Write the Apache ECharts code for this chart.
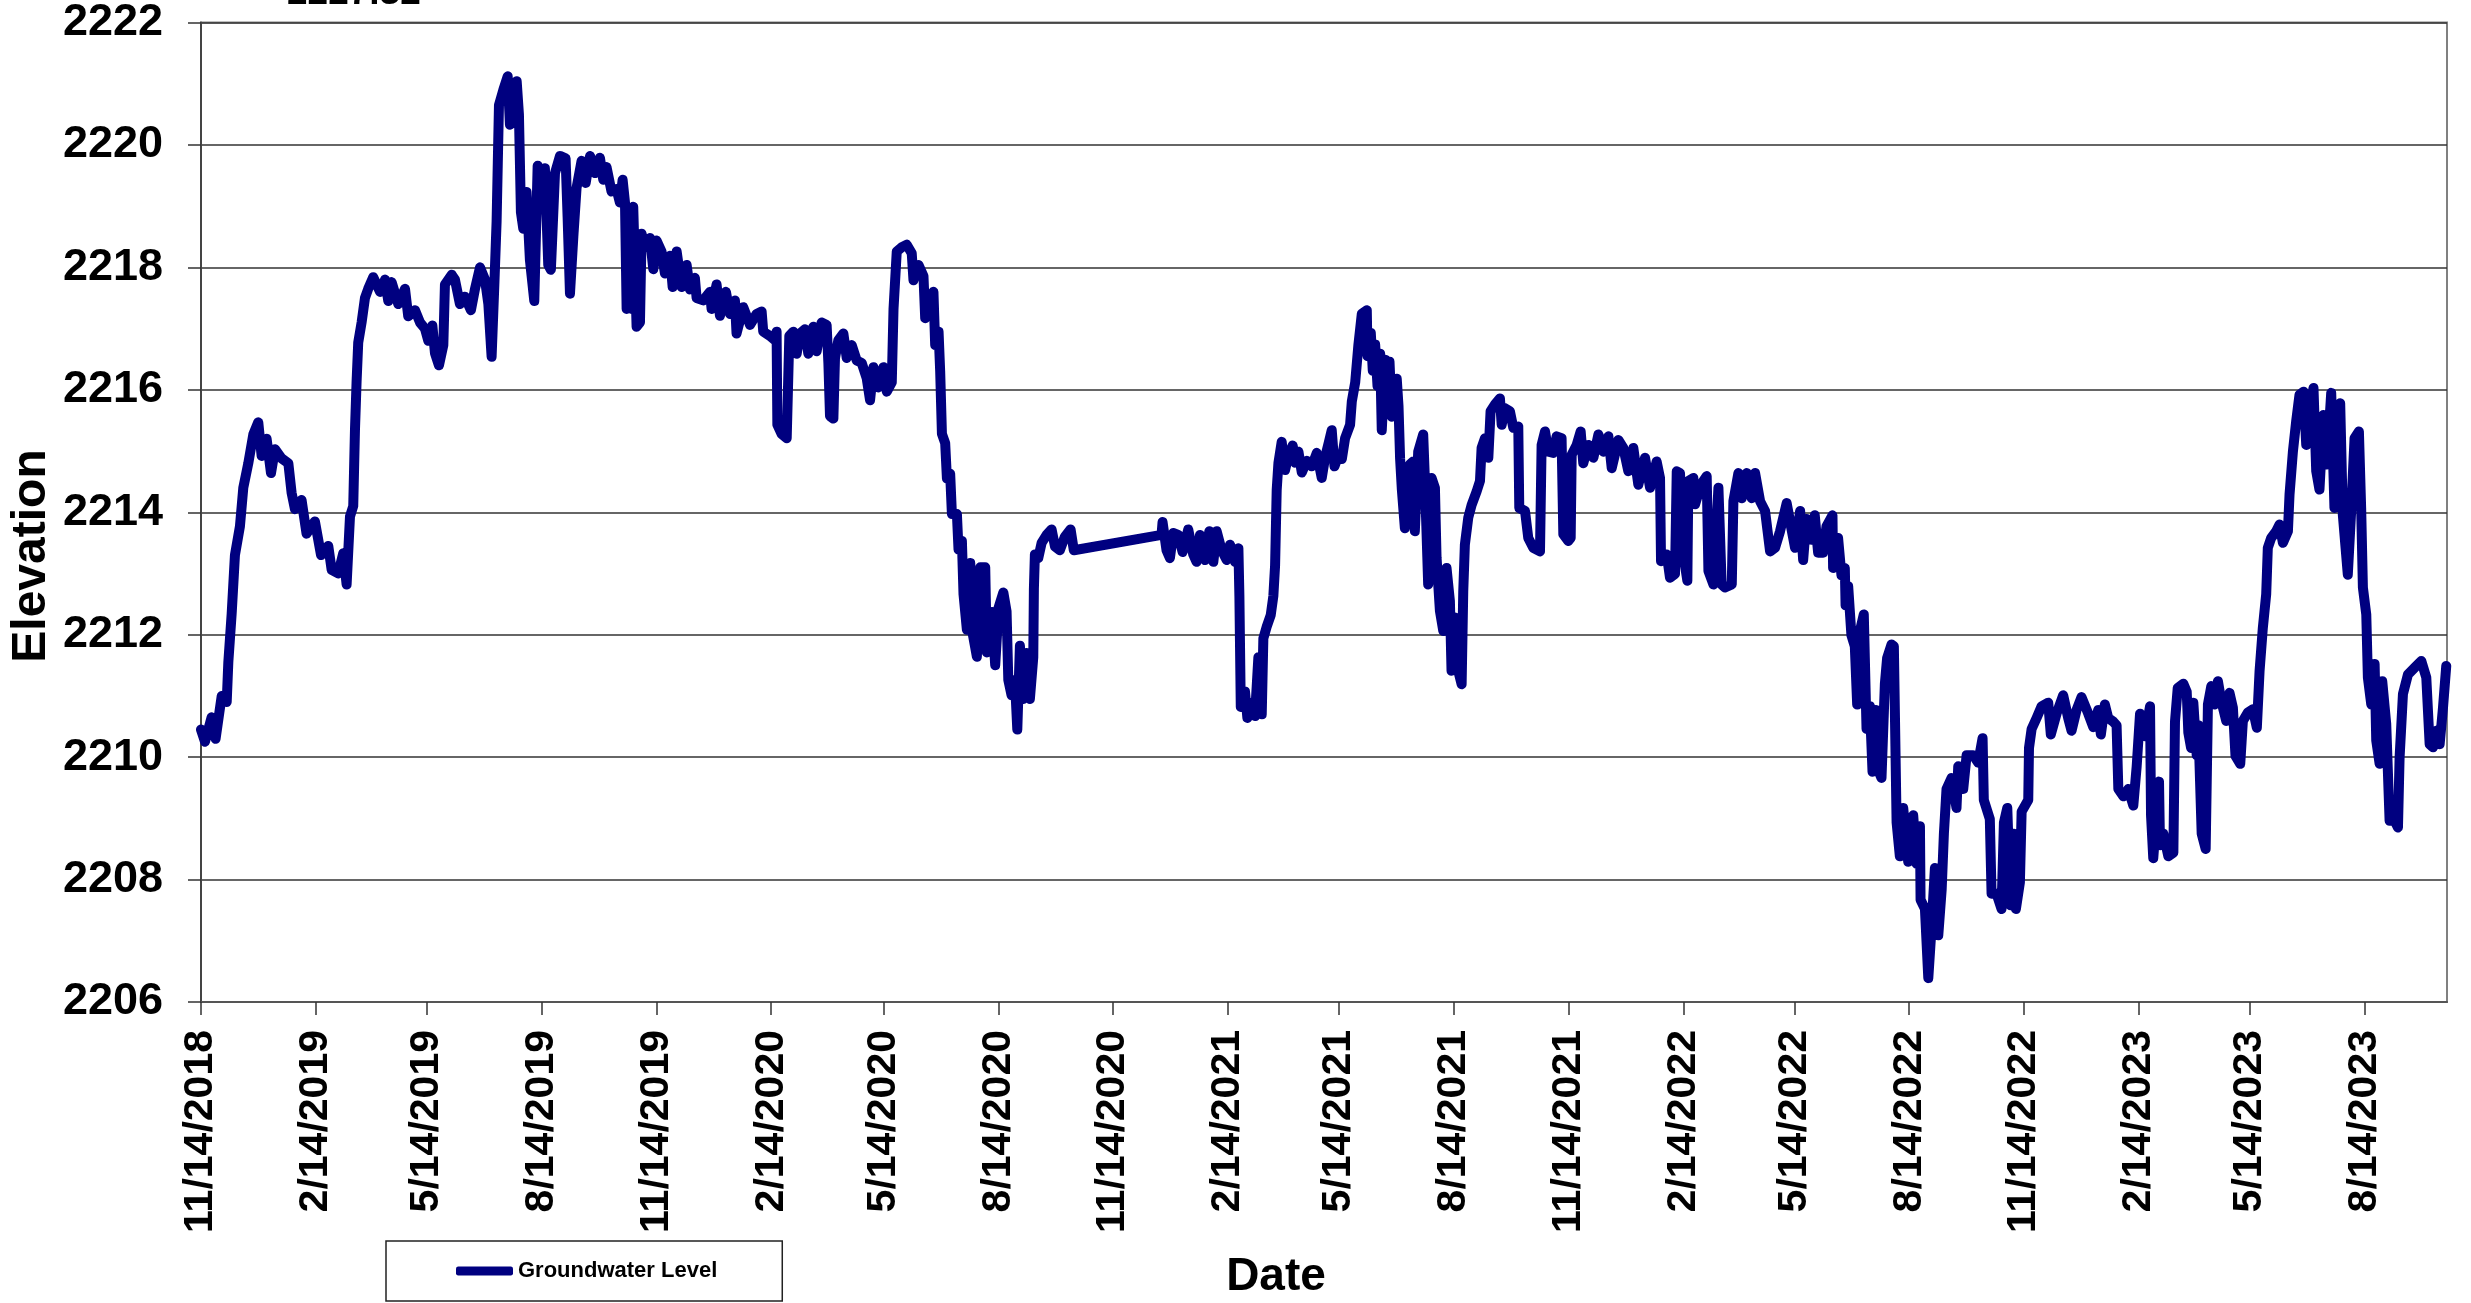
<!DOCTYPE html>
<html>
<head>
<meta charset="utf-8">
<script src="https://cdn.jsdelivr.net/npm/echarts@6/dist/echarts.min.js"></script>
<style>
html,body{margin:0;padding:0;background:#fff;}
#chart{width:2471px;height:1303px;}
</style>
</head>
<body>
<div id="chart"></div>
<script>
// Dates are stored as day offsets from 11/14/2018 (first reading)
const startDate = '11/14/2018';
const seriesName = 'Groundwater Level';
const tickLabels = ['11/14/2018','2/14/2019','5/14/2019','8/14/2019','11/14/2019','2/14/2020','5/14/2020','8/14/2020','11/14/2020','2/14/2021','5/14/2021','8/14/2021','11/14/2021','2/14/2022','5/14/2022','8/14/2022','11/14/2022','2/14/2023','5/14/2023','8/14/2023'];
const dayOffsets = [
0,3.2,8.5,11.7,16.6,20.6,21.9,24.6,27.2,31.2,33.9,37.9,41.9,45.9,48.6,52.6,56.1,59.3,64.6,70,72.6,75.3,80.6,84.6,91.3,96.2,102,104.7,110,114,116.7,119.4,122,123.4,124.7,126,128.7,131.4,134,138,143.5,147.5,150.1,152.8,158.1,163.5,166.1,171.5,175.5,179.5,182.2,185.4,187.5,190.7,194.2,195.5,200.9,203.5,207.5,211.5,216.3,219.6,223.6,227.6,230.3,232.9,235.1,236.9,238.8,242.3,245.8,247.6,250.3,253,254.8,256.4,258.3,260.9,263.6,267.1,269.8,273,275.6,278.3,280.4,283.7,287.7,292.2,293.8,295.7,298.4,301,305,308.3,311.8,315.8,
319.7,322.4,325,329,333,335.7,337.9,339.8,341.1,343.2,345.1,346.4,349.1,351.8,353.1,355.8,359.8,362.5,365.1,369.1,371.8,375.8,378,381.2,385.2,389.2,391.8,395.8,397.2,402.5,407.9,409.2,413.2,415.9,420.7,423.9,427.9,429.2,434.6,440,445.3,449.3,450.6,456,460,461.3,461.9,465.3,469.4,471.5,474.7,477.4,480,484,486.7,490.7,493.4,497.4,501.4,502.8,504.1,506.8,508.1,510.8,514.8,517.5,521.5,525.5,529.5,533.5,536.2,538.9,542.9,546.9,549.6,553.6,555,557.6,561.6,565.6,569.6,571,575,579,580.4,583,587,588.4,591.1,592.4,593.8,596.4,597.8,600.4,601.8,605.8,607.1,609.8,611.1,613.8,616.5,618.6,621.8,624.5,628.5,629.8,633.8,636.5,639.2,
643,645.6,647,649.6,652.3,654.2,656.3,659,661.6,664.3,667,667.5,668.3,671,673.7,677.7,681.7,684.4,688.3,692.3,696.9,699.5,769.8,770.6,773.8,776.5,779.2,783.2,786.7,791.2,795.2,797.9,800.6,804.6,808.1,811.3,814,818,822,824.7,828.7,831.4,832.2,833.3,836.7,838.6,842.1,844.7,847.4,850.1,851.4,854.1,857.3,859.4,860.8,862.1,863.5,866.1,868.8,871.5,874.9,876.8,879.5,882.2,886.2,890.2,894.2,898.2,900.9,903.6,906.2,908.4,911.6,914.3,916.9,920.9,922.3,925,927.6,930.3,934.3,934.9,937.5,939.1,941,942.9,945,946.3,949,950.9,952.5,954.4,955.7,958.3,959.7,961,962.4,
964.8,968.8,971.5,972.8,975.5,979.5,980.8,983.5,986.2,988.9,990.2,992.9,995.6,998.2,1000.9,1002.2,1004.9,1007.6,1010.3,1011.6,1012.9,1015.6,1018.3,1022.3,1025,1026.3,1029,1031.7,1033.5,1037,1041,1042.4,1045,1049,1051.7,1055.7,1056.5,1061.1,1063.7,1067.7,1073.1,1074.4,1077.1,1079.8,1083.8,1086.4,1090.4,1091.8,1095.8,1097.7,1098.5,1102.5,1105.7,1107.8,1111.8,1115.9,1119.9,1123.9,1127.9,1130.6,1135.9,1139.9,1143.9,1147.9,1151.9,1157.3,1161.3,1166.6,1169.3,1170.1,1174.7,1177.3,1181.3,1182.7,1185.3,1188,1191.2,1192,1196,1197.4,1201.4,1204,1206.7,1208.1,1212.1,1216.1,1218.7,1221.4,1226.8,1228.1,1232.1,1234.8,1238.8,1242.8,1245.5,1249.5,1253.5,1257.5,1261.5,1265.5,1270.8,1273.5,1277.5,1281.6,
1284,1286.6,1290.6,1293.3,1296,1300,1302.7,1307.5,1308,1312,1314.7,1317.4,1318,1320.1,1322.7,1325.4,1327.3,1329.4,1332.6,1334.8,1337.5,1339.6,1342.3,1344.1,1346.8,1349.5,1351.3,1354.8,1356.7,1358.9,1361.5,1364.2,1368.2,1372.2,1374.9,1377.6,1378.1,1381.6,1384.3,1386.9,1389.6,1392.3,1395,1396.8,1398.9,1402.9,1406.9,1408.3,1412.3,1415,1420.3,1424.3,1427.8,1428.8,1433.6,1435,1439,1443,1444.9,1447.6,1450.2,1452.9,1454.5,1457.7,1459.1,1464.4,1465,1467.1,1471.1,1475.1,1480.4,1482.5,1487.1,1492.4,1496.4,1499.1,1503.1,1507.1,1512.5,1516.5,1520.5,1522.6,1525.8,1528.5,1532.5,1535.2,1536.6,1540.6,1544.6,1548.6,1551.3,1554,1558,1562,1562.8,1564.6,1566,1569.2,1570,1572.7,1576.7,1580.7,1582,1584.2,1588.7,1591.4,1592.7,1594.9,1596.7,1599.4,1600.7,1603.4,1606.6,
1608.4,1611.1,1613.7,1616.4,1619.1,1623.1,1625.7,1628.4,1630.5,1634.3,1636.4,1640.4,1644.4,1647.6,1649.8,1652.4,1655.1,1656.4,1659.1,1663.1,1665.8,1668.5,1672.5,1673.8,1676.5,1679.1,1681.8,1685,1687.2,1689.8,1693,1695.2,1697.8,1701,1703.7,1707.2,1709.8,1712.5,1714.4,1716.5,1720.5,1723.2,1725.9,1729.4,1731.2,1732.6,1735.3,1736.6,1739.3,1742,1743.3,1746,1748.1,1751.3,1754,1758,1760.7,1762,1764.7,1768.7,1774,1779.4,1783.4,1786.1,1788.8,1791.4,1794.1,1796.8,1799.4
];
const elevations = [
2210.45,2210.25,2210.65,2210.3,2211.0,2210.9,2211.55,2212.35,2213.3,2213.77,2214.4,2214.8,2215.27,2215.47,2214.92,2215.2,2214.64,2215.03,2214.88,2214.8,2214.32,2214.05,2214.2,2213.65,2213.85,2213.3,2213.45,2213.06,2213.0,2213.33,2212.82,2213.93,2214.1,2215.35,2216.14,2216.77,2217.1,2217.5,2217.65,2217.84,2217.6,2217.8,2217.45,2217.76,2217.4,2217.65,2217.2,2217.3,2217.1,2217.0,2216.8,2217.05,2216.6,2216.4,2216.73,2217.72,2217.88,2217.8,2217.4,2217.52,2217.3,2217.65,2218.0,2217.8,2217.4,2216.54,2217.72,2218.75,2220.65,2220.9,2221.12,2220.33,2220.57,2221.04,2220.5,2218.9,2218.63,2219.23,2218.12,2217.45,2219.66,2218.95,2219.62,2218.04,2217.96,2219.54,2219.82,2219.78,2218.83,2217.57,2218.5,2219.3,2219.74,2219.38,2219.82,2219.54,
2219.79,2219.43,2219.64,2219.24,2219.28,2219.06,2219.43,2219.06,2217.32,2218.92,2217.32,2218.99,2217.03,2217.1,2218.55,2218.33,2218.48,2217.97,2218.44,2218.26,2217.9,2218.19,2217.68,2218.26,2217.68,2218.04,2217.64,2217.83,2217.5,2217.46,2217.6,2217.32,2217.72,2217.21,2217.6,2217.24,2217.46,2216.92,2217.35,2217.06,2217.24,2217.28,2216.95,2216.88,2216.81,2216.95,2215.43,2215.28,2215.21,2216.88,2216.95,2216.59,2216.92,2216.99,2216.59,2217.03,2216.63,2217.1,2217.06,2216.44,2215.57,2215.53,2216.52,2216.81,2216.92,2216.52,2216.73,2216.48,2216.44,2216.19,2215.83,2216.37,2216.04,2216.37,2215.97,2216.12,2217.32,2218.26,2218.33,2218.37,2218.23,2217.79,2218.04,2217.86,2217.17,2217.46,2217.6,2216.73,2216.95,2216.3,2215.28,2215.13,2214.55,2214.63,2213.97,2213.97,2213.39,2213.53,2212.66,2212.08,2213.17,2212.0,2211.64,2213.1,2213.1,2211.71,2212.37,2211.5,2212.44,
2212.69,2212.38,2211.26,2211.01,2211.26,2210.45,2211.82,2210.95,2211.7,2210.95,2211.63,2212.75,2213.31,2213.25,2213.5,2213.63,2213.72,2213.44,2213.38,2213.6,2213.72,2213.38,2213.63,2213.84,2213.38,2213.25,2213.66,2213.63,2213.35,2213.72,2213.31,2213.19,2213.63,2213.22,2213.69,2213.19,2213.69,2213.38,2213.22,2213.47,2213.19,2213.41,2212.63,2210.82,2211.07,2210.64,2210.89,2210.67,2211.63,2210.7,2211.94,2212.13,2212.32,2212.63,2213.13,2214.37,2214.81,2215.15,2214.69,2214.93,2215.09,2214.81,2214.99,2214.65,2214.84,2214.75,2214.97,2214.56,2214.9,2215.12,2215.34,2214.75,2214.93,2214.87,2215.21,2215.43,2215.81,2216.12,2216.74,2217.24,2217.3,2216.55,2216.93,2216.31,2216.74,2216.06,2216.59,2215.34,2216.49,2215.62,2216.46,2215.56,2215.68,2216.18,2215.74,2214.87,2214.37,
2213.74,2214.78,2214.83,2213.69,2214.99,2215.27,2214.56,2212.82,2214.56,2214.4,2213.26,2212.39,2212.06,2213.09,2212.55,2211.41,2212.28,2211.41,2211.19,2212.71,2213.47,2213.91,2214.12,2214.34,2214.51,2215.05,2215.21,2214.89,2215.65,2215.76,2215.86,2215.43,2215.7,2215.65,2215.38,2215.4,2214.07,2214.02,2213.58,2213.42,2213.36,2215.1,2215.32,2214.99,2214.97,2215.24,2215.21,2213.64,2213.53,2213.58,2214.94,2215.1,2215.32,2214.8,2215.1,2214.89,2215.27,2214.99,2215.24,2214.72,2215.18,2215.05,2214.67,2215.05,2214.45,2214.89,2214.4,2214.83,2214.56,2213.2,2213.31,2212.93,2212.99,2214.67,2214.64,2213.31,2212.88,2214.51,2214.56,2214.13,2214.4,2214.51,2214.59,2213.04,2212.82,2214.4,2212.82,2212.77,2212.82,2214.18,2214.64,2214.23,2214.64,2214.23,2214.64,2214.18,2214.02,2213.36,2213.42,2213.69,2214.15,2213.85,2213.42,2214.02,
2213.22,2213.89,2213.55,2213.95,2213.34,2213.34,2213.77,2213.95,2213.09,2213.58,2212.97,2213.09,2212.48,2212.79,2211.99,2211.81,2210.86,2212.05,2212.33,2210.46,2210.83,2209.76,2210.77,2209.79,2209.66,2211.2,2211.62,2211.84,2211.81,2208.93,2208.38,2209.17,2208.29,2209.05,2208.26,2208.87,2207.67,2207.52,2206.39,2207.21,2208.19,2207.09,2207.83,2208.75,2209.48,2209.66,2209.17,2209.85,2209.48,2210.03,2210.03,2209.91,2210.31,2209.3,2208.99,2207.77,2207.77,2207.52,2208.93,2209.17,2207.58,2208.75,2207.52,2207.95,2209.11,2209.3,2210.15,2210.46,2210.64,2210.83,2210.89,2210.37,2210.71,2211.01,2210.64,2210.43,2210.77,2210.98,2210.71,2210.49,2210.77,2210.37,2210.86,2210.64,2210.58,2210.52,2209.48,2209.36,2209.48,2209.21,2209.85,2210.71,2210.34,2210.83,2209.05,2208.35,2208.32,2209.6,2208.56,2208.75,2208.38,2208.44,2210.58,2211.13,2211.2,2211.07,2210.4,2210.15,2210.89,2210.03,2210.52,2208.75,2208.5,
2210.86,2211.16,2210.86,2211.24,2210.92,2210.59,2211.05,2210.81,2210.02,2209.89,2210.59,2210.73,2210.78,2210.48,2211.41,2212.11,2212.66,2213.42,2213.58,2213.69,2213.8,2213.5,2213.69,2214.29,2214.99,2215.48,2215.92,2215.97,2215.1,2215.59,2216.03,2214.67,2214.37,2215.59,2214.78,2215.95,2214.07,2214.83,2215.78,2213.96,2212.98,2214.02,2215.21,2215.32,2214.07,2212.77,2212.33,2211.3,2210.86,2211.52,2210.27,2209.89,2211.24,2210.54,2208.96,2208.96,2208.85,2209.99,2211.03,2211.35,2211.46,2211.57,2211.3,2210.21,2210.16,2210.43,2210.21,2210.81,2211.49
];
const yMin = 2206, yMax = 2222, yStep = 2;
const xMaxDays = 1800;
const partialTitle = '2227.32';

function parseMDY(s){const p=s.split('/').map(Number);return Date.UTC(p[2],p[0]-1,p[1]);}
const DAY = 86400000;
const t0 = parseMDY(startDate);
const tickDays = tickLabels.map(s => Math.round((parseMDY(s)-t0)/DAY));
const labelByDay = {};
tickDays.forEach((d,i)=>{labelByDay[d]=tickLabels[i];});
const lineData = dayOffsets.map((d,i)=>[d, elevations[i]]);

const FONT = '"Liberation Sans", Arial, Helvetica, sans-serif';
const chart = echarts.init(document.getElementById('chart'), null, {renderer:'canvas'});
chart.setOption({
  animation: false,
  backgroundColor: '#ffffff',
  grid: {left: 201, right: 24, top: 20, bottom: 301, show: true, borderColor: '#808080', borderWidth: 2, backgroundColor: 'transparent'},
  xAxis: {
    type: 'value', min: 0, max: xMaxDays,
    axisLine: {show: true, onZero: false, lineStyle: {color: '#555', width: 2}},
    axisTick: {show: true, customValues: tickDays, length: 13, inside: false, lineStyle: {color: '#333', width: 1.5}},
    axisLabel: {show: true, customValues: tickDays, rotate: 90, margin: 28,
      formatter: v => labelByDay[Math.round(v)] || '',
      fontFamily: FONT, fontWeight: 'bold', fontSize: 41, color: '#000'},
    splitLine: {show: false}
  },
  yAxis: {
    type: 'value', min: yMin, max: yMax, interval: yStep,
    axisLine: {show: true, lineStyle: {color: '#444', width: 2}},
    axisTick: {show: true, length: 13, inside: false, lineStyle: {color: '#333', width: 1.5}},
    axisLabel: {margin: 38, fontFamily: FONT, fontWeight: 'bold', fontSize: 45, color: '#000',
      formatter: v => String(v)},
    splitLine: {show: true, lineStyle: {color: '#333', width: 1.5}}
  },
  legend: {
    show: true, left: 386, top: 1241,
    padding: [19, 65, 19, 70],
    borderColor: '#222', borderWidth: 1.5, backgroundColor: '#fff',
    itemWidth: 57, itemHeight: 9, icon: 'roundRect', itemGap: 10,
    textStyle: {fontFamily: FONT, fontWeight: 'bold', fontSize: 22, color: '#000'},
    data: [seriesName]
  },
  graphic: [
    {type: 'text', x: 32, y: 556, rotation: Math.PI/2,
     style: {text: 'Elevation', fontFamily: FONT, fontWeight: 'bold', fontSize: 48, fill: '#000', align: 'center', verticalAlign: 'middle'}},
    {type: 'text', x: 1276, y: 1277,
     style: {text: 'Date', fontFamily: FONT, fontWeight: 'bold', fontSize: 46, fill: '#000', align: 'center', verticalAlign: 'middle'}},
    {type: 'text', x: 287, y: 12,
     style: {text: partialTitle, fontFamily: FONT, fontWeight: 'bold', fontSize: 37, fill: '#000', align: 'left', verticalAlign: 'bottom'}}
  ],
  series: [{
    name: seriesName, type: 'line', data: lineData,
    showSymbol: false, symbol: 'none', smooth: false,
    lineStyle: {color: '#000080', width: 10, join: 'round', cap: 'round'},
    itemStyle: {color: '#000080'},
    clip: true
  }]
});
</script>
</body>
</html>
